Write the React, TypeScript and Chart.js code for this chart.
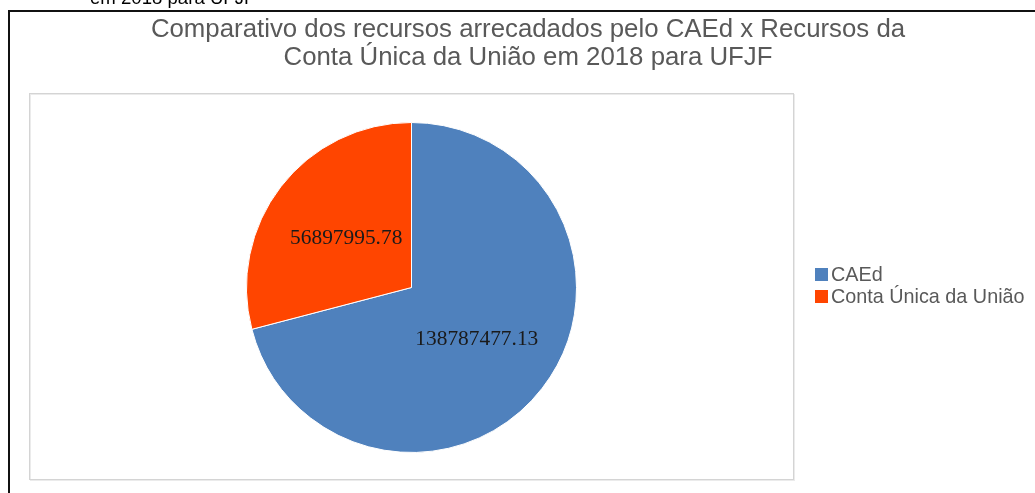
import React, { useEffect, useRef } from "react";
import { Chart, registerables } from "chart.js";

Chart.register(...registerables);

const categories = ["CAEd", "Conta Única da União"];
const values = [138787477.13, 56897995.78];
const sliceColors = ["#4F81BD", "#FF4500"];
const titleLines = [
  "Comparativo dos recursos arrecadados pelo CAEd x Recursos da",
  "Conta Única da União em 2018 para UFJF",
];
const captionText = "em 2018 para UFJF";

const W = 1035;
const H = 493;

const decorPlugin = {
  id: "decor",
  beforeDraw(chart: any) {
    const ctx = chart.ctx;
    ctx.save();
    ctx.fillStyle = "#ffffff";
    ctx.fillRect(0, 0, W, H);
    // cut caption from the document above
    ctx.fillStyle = "#000000";
    ctx.font = "18.6px 'Liberation Sans', Arial, sans-serif";
    ctx.textAlign = "left";
    ctx.textBaseline = "alphabetic";
    ctx.fillText(captionText, 90, 4);
    // outer frame
    ctx.fillStyle = "#111111";
    ctx.fillRect(8, 10, 2, H);
    ctx.fillRect(8, 10, W, 2);
    // plot area box
    ctx.strokeStyle = "#ebebeb";
    ctx.lineWidth = 1;
    ctx.strokeRect(30.5, 94.5, 764, 386);
    ctx.strokeStyle = "#d4d4d4";
    ctx.strokeRect(29.5, 93.5, 764, 386);
    // title
    ctx.fillStyle = "#595959";
    ctx.font = "25.8px 'Liberation Sans', Arial, sans-serif";
    ctx.textAlign = "center";
    ctx.fillText(titleLines[0], 528, 37);
    ctx.fillText(titleLines[1], 528, 65);
    ctx.restore();
  },
  afterDatasetsDraw(chart: any) {
    const ctx = chart.ctx;
    const meta = chart.getDatasetMeta(0);
    const data = chart.data.datasets[0].data as number[];
    ctx.save();
    const size = 21.4;
    ctx.font = `${size}px 'Liberation Serif', 'Times New Roman', serif`;
    ctx.fillStyle = "#1a1a1a";
    ctx.textAlign = "center";
    ctx.textBaseline = "alphabetic";
    meta.data.forEach((arc: any, i: number) => {
      const p = arc.getProps(["x", "y", "startAngle", "endAngle", "outerRadius"], true);
      const mid = (p.startAngle + p.endAngle) / 2;
      const r = p.outerRadius * 0.5;
      const x = p.x + Math.cos(mid) * r;
      const y = p.y + Math.sin(mid) * r;
      ctx.fillText(data[i].toFixed(2), x, y + size * 0.33);
    });
    ctx.restore();
  },
  afterDraw(chart: any) {
    const ctx = chart.ctx;
    const ds = chart.data.datasets[0];
    const labels = chart.data.labels as string[];
    ctx.save();
    ctx.font = "19.8px 'Liberation Sans', Arial, sans-serif";
    ctx.textAlign = "left";
    ctx.textBaseline = "alphabetic";
    labels.forEach((lab, i) => {
      const base = 281 + i * 22;
      ctx.fillStyle = (ds.backgroundColor as string[])[i];
      ctx.fillRect(815, base - 13, 13, 13);
      ctx.fillStyle = "#595959";
      ctx.fillText(lab, 831, base);
    });
    ctx.restore();
  },
};

export default function App() {
  const ref = useRef<HTMLCanvasElement | null>(null);
  useEffect(() => {
    if (!ref.current) return;
    const chart = new Chart(ref.current, {
      type: "pie",
      data: {
        labels: categories,
        datasets: [
          {
            data: values,
            backgroundColor: sliceColors,
            borderColor: "#ffffff",
            borderWidth: 1,
          },
        ],
      },
      options: {
        animation: false,
        responsive: false,
        events: [],
        layout: { padding: { left: 246, right: 458, top: 122, bottom: 40 } },
        plugins: {
          legend: { display: false },
          title: { display: false },
          tooltip: { enabled: false },
        },
      },
      plugins: [decorPlugin],
    });
    return () => chart.destroy();
  }, []);
  return (
    <div style={{ position: "absolute", left: 0, top: 0, width: W, height: H, overflow: "hidden" }}>
      <canvas ref={ref} width={W} height={H} style={{ width: W, height: H, display: "block" }} />
    </div>
  );
}
